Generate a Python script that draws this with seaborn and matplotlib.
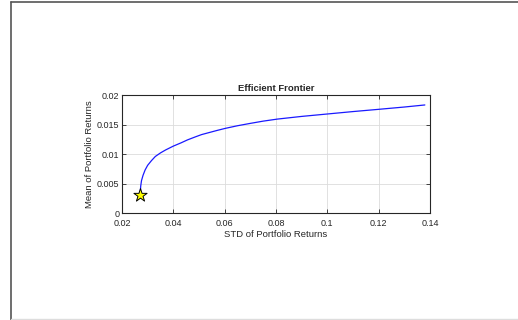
import matplotlib
matplotlib.use("Agg")
import matplotlib.pyplot as plt
import seaborn as sns
import pandas as pd
from matplotlib.lines import Line2D

# Точки границы
port_std = [0.0271, 0.0271, 0.0273, 0.0276, 0.0282, 0.0290, 0.0300, 0.0315, 0.0330,
            0.0350, 0.0370, 0.0400, 0.0430, 0.0455, 0.0485, 0.0510, 0.0540, 0.0570,
            0.0603, 0.0650, 0.0700, 0.0750, 0.0806, 0.0900, 0.1000, 0.1100,
            0.1200, 0.1300, 0.1380]
port_mean = [0.0031, 0.0038, 0.0046, 0.0055, 0.0064, 0.0073, 0.0081, 0.0089, 0.0096,
             0.0102, 0.0107, 0.01135, 0.0119, 0.0124, 0.0129, 0.0133, 0.01365, 0.0140,
             0.01436, 0.0148, 0.0152, 0.01558, 0.01593, 0.01638, 0.01679, 0.0172,
             0.01758, 0.01797, 0.01832]
min_var_std = [0.0271]
min_var_mean = [0.0031]

df = pd.DataFrame({"std": port_std, "mean": port_mean})
mv = pd.DataFrame({"std": min_var_std, "mean": min_var_mean})

sns.set_theme(style="whitegrid")
plt.rcParams["font.family"] = ["Liberation Sans", "DejaVu Sans"]

fig = plt.figure(figsize=(5.18, 3.2), dpi=100)
ax = fig.add_axes([0.2355, 0.334, 0.5946, 0.369])

sns.lineplot(data=df, x="std", y="mean", sort=False, color="#1a1aff",
             linewidth=0.9, ax=ax)
sns.scatterplot(data=mv, x="std", y="mean", marker="*", s=100, color="yellow",
                edgecolor="black", linewidth=0.7, zorder=5, ax=ax)

ax.set_xlim(0.02, 0.14)
ax.set_ylim(0, 0.02)
ax.set_xticks([0.02, 0.04, 0.06, 0.08, 0.1, 0.12, 0.14])
ax.set_xticklabels(["0.02", "0.04", "0.06", "0.08", "0.1", "0.12", "0.14"])
ax.set_yticks([0, 0.005, 0.01, 0.015, 0.02])
ax.set_yticklabels(["0", "0.005", "0.01", "0.015", "0.02"])

ax.set_facecolor("white")
ax.grid(True, color="#dcdcdc", linewidth=0.6)
for s in ax.spines.values():
    s.set_visible(True)
    s.set_color("#262626")
    s.set_linewidth(0.8)
ax.tick_params(direction="in", length=3, width=0.6, colors="#262626",
               labelsize=6.5, top=True, right=True, bottom=True, left=True)
ax.tick_params(axis="x", pad=4)
ax.tick_params(axis="y", pad=2)

ax.set_title("Efficient Frontier", fontsize=6.8, fontweight="bold", pad=3)
ax.set_xlabel("STD of Portfolio Returns", fontsize=6.8, color="#262626", labelpad=1.5)
ax.set_ylabel("Mean of Portfolio Returns", fontsize=6.8, color="#262626", labelpad=2)

# рамка окна
fig.add_artist(Line2D([11 / 518, 11 / 518], [0, 1 - 1.5 / 320], color="#555555", lw=1.2))
fig.add_artist(Line2D([11 / 518, 1], [1 - 1.5 / 320, 1 - 1.5 / 320], color="#555555", lw=1.2))
fig.add_artist(Line2D([11 / 518, 1], [1.5 / 320, 1.5 / 320], color="#dddddd", lw=1))

fig.savefig("out.png", dpi=100)
